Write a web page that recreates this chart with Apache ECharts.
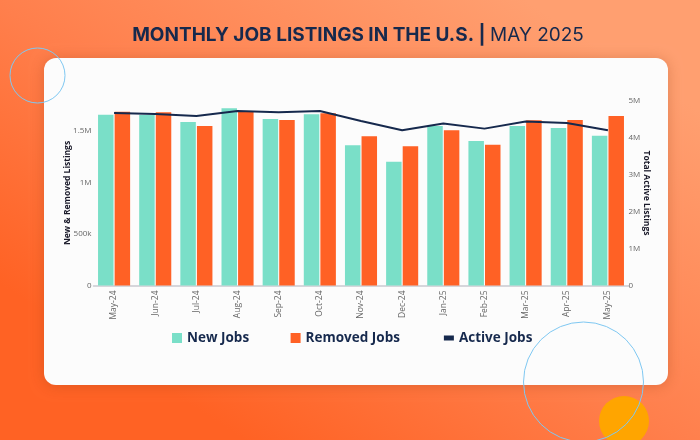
<!DOCTYPE html>
<html><head><meta charset="utf-8">
<style>html,body{margin:0;padding:0;background:#ff7a45}#c{width:700px;height:440px}</style>
<script src="https://cdn.jsdelivr.net/npm/echarts@6/dist/echarts.min.js"></script>
</head><body><div id="c"></div>
<script>
const months = ['May-24','Jun-24','Jul-24','Aug-24','Sep-24','Oct-24','Nov-24','Dec-24','Jan-25','Feb-25','Mar-25','Apr-25','May-25'];
const newJobs = [1658000,1655000,1587000,1720000,1617000,1662000,1361000,1202000,1549000,1403000,1549000,1529000,1454000];
const removedJobs = [1687000,1682000,1549000,1687000,1607000,1672000,1449000,1351000,1507000,1367000,1604000,1607000,1646000];
const activeJobs = [4660000,4635000,4580000,4716000,4680000,4716000,4446000,4197000,4376000,4240000,4430000,4390000,4197000];
const leftTicks = {0:'0',500000:'500k',1000000:'1M',1500000:'1.5M'};
const rightTicks = {0:'0',1000000:'1M',2000000:'2M',3000000:'3M',4000000:'4M',5000000:'5M'};
const chart = echarts.init(document.getElementById('c'), null, {renderer:'canvas'});
const axisLabel = {color:'#666', fontFamily:'Open Sans', fontSize:8};
const axisName = {color:'#1a1a2a', fontFamily:'Open Sans', fontWeight:'bold', fontSize:8.5};
chart.setOption({
  animation:false,
  title:{
    left:353, top:21, textAlign:'center',
    text:'{b|MONTHLY JOB LISTINGS IN THE U.S. | }{l|MAY 2025}',
    textStyle:{rich:{
      b:{fontFamily:'Inter',fontWeight:'bold',fontSize:19,color:'#16294d'},
      l:{fontFamily:'Inter',fontWeight:'normal',fontSize:19,color:'#16294d'}
    }}
  },
  legend:{
    left:172, top:331, padding:0, itemWidth:10, itemHeight:10, itemGap:41.5,
    textStyle:{fontFamily:'Open Sans',fontWeight:'bold',fontSize:13.5,color:'#16294d'},
    data:[
      {name:'New Jobs',icon:'rect'},
      {name:'Removed Jobs',icon:'rect'},
      {name:'Active Jobs',itemStyle:{opacity:0},lineStyle:{width:5,color:'#16294d'}}
    ]
  },
  grid:{left:93.5,right:71.5,top:100.5,bottom:154.5},
  xAxis:{
    type:'category',data:months,
    axisTick:{show:false},
    axisLine:{lineStyle:{color:'#c9c9d0',width:1.5}},
    axisLabel:{...axisLabel,fontSize:8.5,rotate:90,interval:0,margin:5}
  },
  yAxis:[
    {type:'value',min:0,max:1796000,interval:500000,
     name:'New & Removed Listings',nameLocation:'middle',nameGap:21,nameMoveOverlap:false,nameTextStyle:axisName,
     splitLine:{show:false},axisLine:{show:false},axisTick:{show:false},
     axisLabel:{...axisLabel,margin:2,showMaxLabel:false,formatter:v=>leftTicks[v]??''}},
    {type:'value',min:0,max:5000000,interval:1000000,
     name:'Total Active Listings',nameLocation:'middle',nameGap:13,nameMoveOverlap:false,nameRotate:-90,nameTextStyle:axisName,
     splitLine:{show:false},axisLine:{show:false},axisTick:{show:false},
     axisLabel:{...axisLabel,margin:0,formatter:v=>rightTicks[v]??''}}
  ],
  series:[
    {name:'New Jobs',type:'bar',data:newJobs,barWidth:15.5,barGap:'7%',yAxisIndex:0,z:2,itemStyle:{color:'#7adfc8'}},
    {name:'Removed Jobs',type:'bar',data:removedJobs,barWidth:15.5,yAxisIndex:0,z:2,itemStyle:{color:'#ff6125'}},
    {name:'Active Jobs',type:'line',data:activeJobs,yAxisIndex:1,symbol:'none',z:5,lineStyle:{color:'#16294d',width:2}}
  ],
  graphic:[
    {type:'rect',z:-20,silent:true,shape:{x:0,y:0,width:700,height:440},
     style:{fill:new echarts.graphic.LinearGradient(0.75,0,0.35,1,[{offset:0,color:'#ff9f70'},{offset:0.55,color:'#ff7f4c'},{offset:1,color:'#ff6224'}])}},
    {type:'rect',z:-10,silent:true,shape:{x:44,y:58,width:624,height:327,r:12},
     style:{fill:'#fcfcfc',shadowBlur:14,shadowColor:'rgba(150,60,20,0.3)',shadowOffsetX:0,shadowOffsetY:1}},
    {type:'circle',z:-15,silent:true,shape:{cx:624,cy:421,r:25},style:{fill:'#ffa500'}},
    {type:'circle',z:50,silent:true,shape:{cx:37.5,cy:75.5,r:27.5},style:{fill:'none',stroke:'#7fc8f2',lineWidth:1}},
    {type:'circle',z:50,silent:true,shape:{cx:583.5,cy:382,r:60},style:{fill:'none',stroke:'#7fc8f2',lineWidth:1}}
  ]
});
</script></body></html>
